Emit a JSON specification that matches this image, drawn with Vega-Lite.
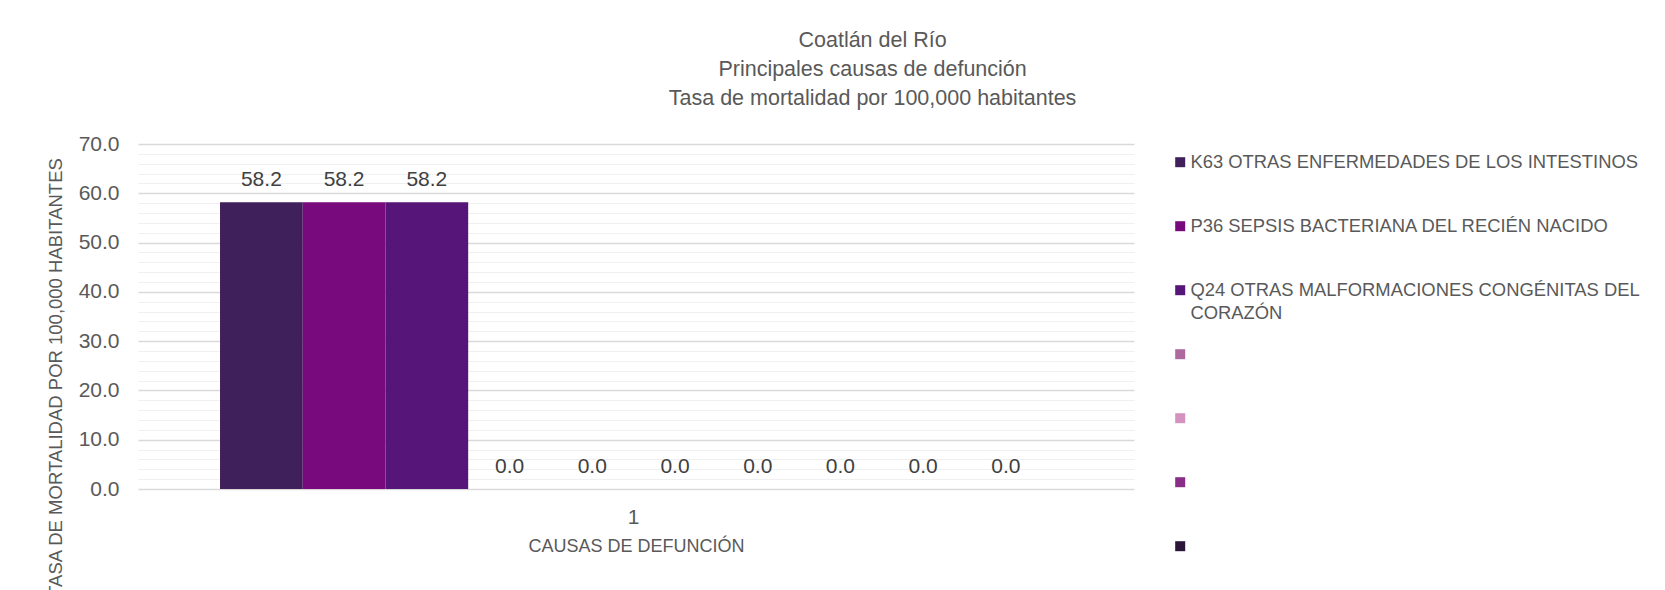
{
  "$schema": "https://vega.github.io/schema/vega-lite/v6.json",
  "autosize": {"type": "none"},
  "padding": {"left": 138, "top": 144, "right": 531, "bottom": 101},
  "width": 996,
  "height": 345,
  "background": "white",
  "config": {
    "font": "Liberation Sans",
    "view": {"stroke": null},
    "style": {"guide-label": {"lineHeight": 23}}
  },
  "title": {
    "text": ["Coatlán del Río", "Principales causas de defunción", "Tasa de mortalidad por 100,000 habitantes"],
    "fontSize": 21.5,
    "fontWeight": "normal",
    "color": "#595959",
    "lineHeight": 29.3,
    "anchor": "middle",
    "frame": "bounds",
    "dx": 25,
    "offset": 23
  },
  "data": {
    "values": [
      {"cat": "1", "serie": "K63 OTRAS ENFERMEDADES DE LOS INTESTINOS", "valor": 58.2},
      {"cat": "1", "serie": "P36 SEPSIS BACTERIANA DEL RECIÉN NACIDO", "valor": 58.2},
      {"cat": "1", "serie": "Q24 OTRAS MALFORMACIONES CONGÉNITAS DEL CORAZÓN", "valor": 58.2},
      {"cat": "1", "serie": "Serie 4", "valor": 0.0},
      {"cat": "1", "serie": "Serie 5", "valor": 0.0},
      {"cat": "1", "serie": "Serie 6", "valor": 0.0},
      {"cat": "1", "serie": "Serie 7", "valor": 0.0},
      {"cat": "1", "serie": "Serie 8", "valor": 0.0},
      {"cat": "1", "serie": "Serie 9", "valor": 0.0},
      {"cat": "1", "serie": "Serie 10", "valor": 0.0}
    ]
  },
  "encoding": {
    "x": {
      "field": "cat",
      "type": "nominal",
      "scale": {"paddingInner": 0, "paddingOuter": 0.102, "align": 0.486},
      "axis": {
        "title": "CAUSAS DE DEFUNCIÓN",
        "labelAngle": 0,
        "labelFontSize": 21,
        "labelColor": "#595959",
        "labelPadding": 17,
        "ticks": false,
        "domain": false,
        "titleFontSize": 18,
        "titleFontWeight": "normal",
        "titleColor": "#595959",
        "titlePadding": 10
      }
    },
    "xOffset": {
      "field": "serie",
      "type": "nominal",
      "sort": null,
      "scale": {"paddingInner": 0, "paddingOuter": 0}
    }
  },
  "layer": [
    {
      "mark": {"type": "bar"},
      "encoding": {
        "y": {
          "field": "valor",
          "type": "quantitative",
          "scale": {"domain": [0, 70], "nice": false},
          "axis": {
            "values": [0, 10, 20, 30, 40, 50, 60, 70],
            "format": ".1f",
            "grid": true,
            "gridColor": "#d9d9d9",
            "gridWidth": 1.4,
            "domain": false,
            "ticks": false,
            "labelFontSize": 21,
            "labelColor": "#595959",
            "labelPadding": 19,
            "title": "TASA DE MORTALIDAD POR 100,000 HABITANTES",
            "titleFontSize": 18.5,
            "titleFontWeight": "normal",
            "titleColor": "#595959",
            "titleY": 233,
            "titlePadding": 13
          }
        },
        "color": {
          "field": "serie",
          "type": "nominal",
          "sort": null,
          "scale": {
            "range": ["#40205a", "#780a7e", "#561578", "#ad6a9f", "#d393be", "#8a2d86", "#2b1538", "#6b3f8c", "#c25a9e", "#4e2a66"]
          },
          "legend": {
            "title": null,
            "orient": "right",
            "offset": 28,
            "padding": 9,
            "gridAlign": "all",
            "symbolType": "square",
            "symbolSize": 100,
            "symbolStrokeWidth": 0,
            "labelFontSize": 18.4,
            "labelColor": "#595959",
            "labelOffset": 1,
            "labelLimit": 600,
            "rowPadding": 22,
            "labelExpr": "indexof(datum.label, 'Serie') == 0 ? '' : (datum.label == 'Q24 OTRAS MALFORMACIONES CONGÉNITAS DEL CORAZÓN' ? ['Q24 OTRAS MALFORMACIONES CONGÉNITAS DEL', 'CORAZÓN'] : datum.label)"
          }
        }
      }
    },
    {
      "mark": {"type": "text", "baseline": "alphabetic", "dy": -16, "fontSize": 21, "color": "#404040"},
      "encoding": {
        "y": {
          "field": "valor",
          "type": "quantitative",
          "axis": {
            "orient": "left",
            "values": [2, 4, 6, 8, 12, 14, 16, 18, 22, 24, 26, 28, 32, 34, 36, 38, 42, 44, 46, 48, 52, 54, 56, 58, 62, 64, 66, 68],
            "grid": true,
            "gridColor": "#f0f0f0",
            "gridWidth": 1.2,
            "labels": false,
            "ticks": false,
            "domain": false,
            "title": null
          }
        },
        "text": {"field": "valor", "type": "quantitative", "format": ".1f"}
      }
    }
  ],
  "resolve": {"axis": {"y": "independent"}}
}
